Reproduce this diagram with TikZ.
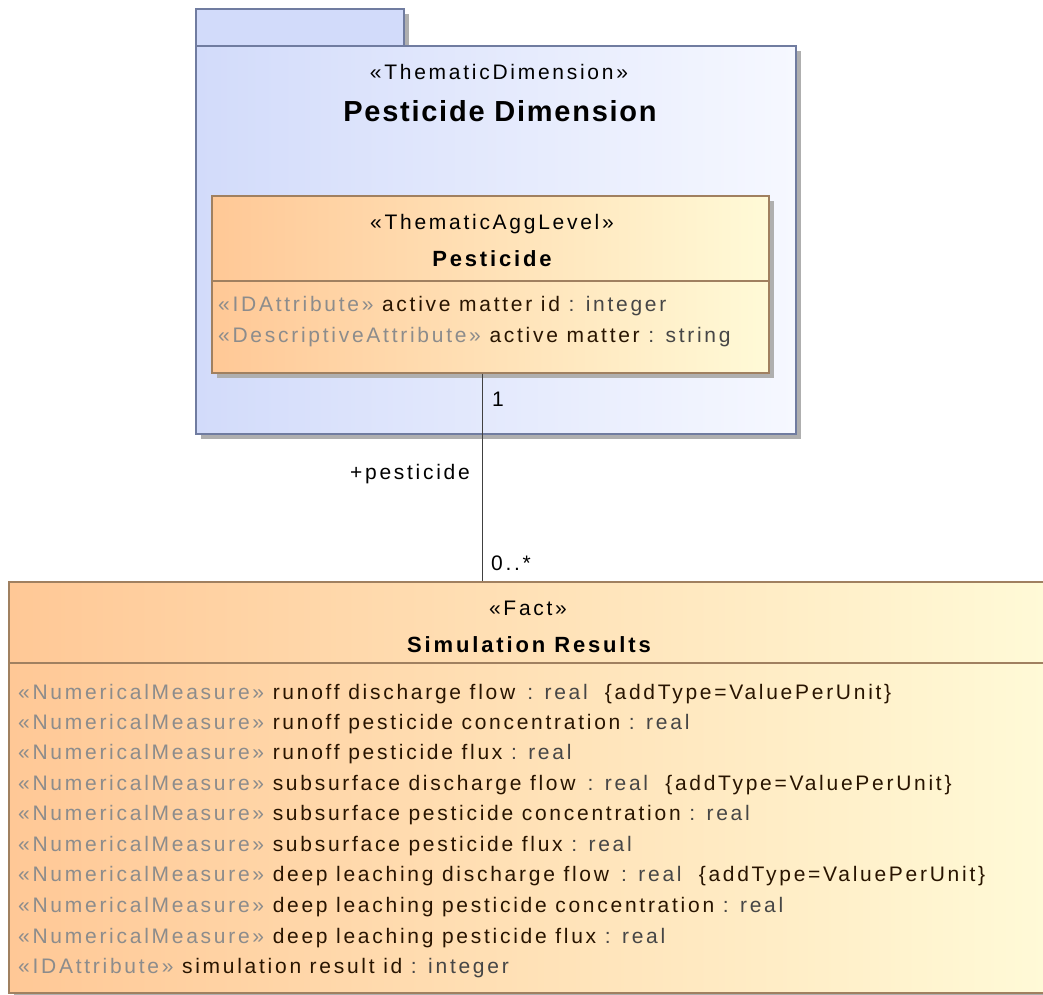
\documentclass[tikz,border=0pt]{standalone}
\usepackage{fontspec}
\setmainfont{Liberation Sans}[LetterSpace=13]
\newfontfamily\titlefont{Liberation Sans}[LetterSpace=6]
\usetikzlibrary{calc}
\definecolor{pkgL}{RGB}{210,219,250}
\definecolor{pkgR}{RGB}{246,248,255}
\definecolor{pkgB}{RGB}{112,124,160}
\definecolor{clsL}{RGB}{255,200,150}
\definecolor{clsR}{RGB}{255,250,215}
\definecolor{clsB}{RGB}{160,128,96}
\definecolor{shad}{RGB}{175,175,175}
\definecolor{stcol}{RGB}{140,140,140}
\definecolor{nmcol}{RGB}{40,20,0}
\definecolor{tycol}{RGB}{70,70,70}
\newcommand\stt[1]{\textcolor{stcol}{«#1»}}
\newcommand\tyy[1]{\textcolor{tycol}{#1}}
\tikzset{
  pkgbox/.style={draw=pkgB, line width=1.5pt, left color=pkgL, right color=pkgR, anchor=north west, inner sep=0pt},
  clsbox/.style={draw=clsB, line width=1.5pt, left color=clsL, right color=clsR, anchor=north west, inner sep=0pt},
  shadowbox/.style={fill=shad, draw=none},
  ctext/.style={inner sep=0pt, anchor=base, text=black},
  attr/.style={inner sep=0pt, anchor=base west, text=nmcol, font=\fontsize{21}{25}\selectfont},
  lbl/.style={inner sep=0pt, anchor=base, text=black, font=\fontsize{21}{25}\selectfont},
  conn/.style={draw=black!75, line width=1.3pt}
}
\begin{document}
\begin{tikzpicture}[x=1pt,y=-1pt]
\useasboundingbox (0,0) rectangle (1043,994);
\clip (0,0) rectangle (1043,994);
% package
\fill[shadowbox] (201,14) rectangle (409,51);
\fill[shadowbox] (201,51) rectangle (801,439);
\node[draw=pkgB, line width=1.5pt, fill=pkgL, anchor=north west, inner sep=0pt, minimum width=208pt, minimum height=37pt] (tab) at (195,8) {};
\node[pkgbox, minimum width=600pt, minimum height=388pt] (pkg) at (195,45) {};
\node[ctext, font=\fontsize{21}{25}\selectfont] (pkgst) at (499,79) {«ThematicDimension»};
\node[ctext, font=\titlefont\bfseries\fontsize{29}{34}\selectfont] (pkgname) at (500,121) {Pesticide Dimension};
% Pesticide class
\fill[shadowbox] (217,201) rectangle (774,378);
\node[clsbox, minimum width=557pt, minimum height=177pt] (pest) at (211,195) {};
\draw[clsB, line width=1.5pt] (211,281) -- (768,281);
\node[ctext, font=\fontsize{21}{25}\selectfont] (pestst) at (492,229) {«ThematicAggLevel»};
\node[ctext, font=\bfseries\fontsize{22}{26}\selectfont] (pestname) at (492,266) {Pesticide};
\node[attr] (pa1) at (218,311) {\stt{IDAttribute} active matter id \tyy{: integer}};
\node[attr] (pa2) at (218,342) {\stt{DescriptiveAttribute} active matter \tyy{: string}};
% Fact class
\fill[shadowbox] (14,587) rectangle (1051,998);
\node[clsbox, minimum width=1037pt, minimum height=411pt] (fact) at (8,581) {};
\draw[clsB, line width=1.5pt] (8,663) -- (1045,663);
\node[ctext, font=\fontsize{21}{25}\selectfont] (factst) at (528,615) {«Fact»};
\node[ctext, font=\bfseries\fontsize{22}{26}\selectfont] (factname) at (529,652) {Simulation Results};
\node[attr] (f1) at (18,699) {\stt{NumericalMeasure} runoff discharge flow \,\tyy{: real} \ \{addType=ValuePerUnit\}};
\node[attr] (f2) at (18,729) {\stt{NumericalMeasure} runoff pesticide concentration \tyy{: real}};
\node[attr] (f3) at (18,759) {\stt{NumericalMeasure} runoff pesticide flux \tyy{: real}};
\node[attr] (f4) at (18,790) {\stt{NumericalMeasure} subsurface discharge flow \,\tyy{: real} \ \{addType=ValuePerUnit\}};
\node[attr] (f5) at (18,820) {\stt{NumericalMeasure} subsurface pesticide concentration \tyy{: real}};
\node[attr] (f6) at (18,851) {\stt{NumericalMeasure} subsurface pesticide flux \tyy{: real}};
\node[attr] (f7) at (18,881) {\stt{NumericalMeasure} deep leaching discharge flow \,\tyy{: real} \ \{addType=ValuePerUnit\}};
\node[attr] (f8) at (18,912) {\stt{NumericalMeasure} deep leaching pesticide concentration \tyy{: real}};
\node[attr] (f9) at (18,943) {\stt{NumericalMeasure} deep leaching pesticide flux \tyy{: real}};
\node[attr] (f10) at (18,973) {\stt{IDAttribute} simulation result id \tyy{: integer}};
% association
\coordinate (aTop) at ([xshift=-7.5pt]pest.south);
\draw[conn] (aTop) -- (aTop |- fact.north);
\node[lbl] (m1) at (498,406) {1};
\node[lbl] (role) at (410,479) {+pesticide};
\node[lbl] (m2) at (511,570) {0..*};
\end{tikzpicture}
\end{document}
